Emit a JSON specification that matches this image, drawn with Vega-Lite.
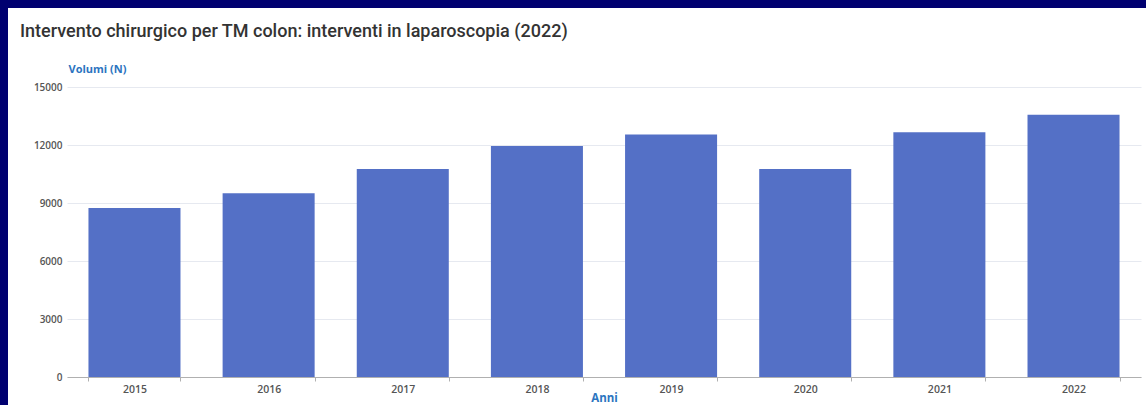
{
  "$schema": "https://vega.github.io/schema/vega-lite/v6.json",
  "width": 1138,
  "height": 397,
  "autosize": {"type": "none"},
  "padding": {"left": 8, "top": 8, "right": 0, "bottom": 0},
  "background": "#000070",
  "config": {"view": {"fill": "white", "stroke": null}},
  "title": {
    "text": "Intervento chirurgico per TM colon: interventi in laparoscopia (2022)",
    "anchor": "start",
    "frame": "group",
    "offset": -33,
    "dx": 12,
    "font": "Roboto",
    "fontSize": 18,
    "fontWeight": 500,
    "color": "#333333"
  },
  "data": {
    "values": [
      {"anno": "2015", "volumi": 8740},
      {"anno": "2016", "volumi": 9500},
      {"anno": "2017", "volumi": 10760},
      {"anno": "2018", "volumi": 11950},
      {"anno": "2019", "volumi": 12540},
      {"anno": "2020", "volumi": 10760},
      {"anno": "2021", "volumi": 12660},
      {"anno": "2022", "volumi": 13570}
    ]
  },
  "mark": {"type": "bar", "color": "#5470c6"},
  "encoding": {
    "x": {
      "field": "anno",
      "type": "ordinal",
      "scale": {"range": [59, 1133], "paddingInner": 0.314, "paddingOuter": 0.16},
      "axis": {
        "title": "Anni",
        "orient": "bottom",
        "offset": -28,
        "labelAngle": 0,
        "tickBand": "extent",
        "domainColor": "#b0b0b0",
        "tickColor": "#b0b0b0",
        "tickSize": 4,
        "labelPadding": 3,
        "labelFont": "Open Sans",
        "labelFontSize": 10.5,
        "labelFontWeight": 600,
        "labelColor": "#555555",
        "titleFont": "Open Sans",
        "titleFontSize": 11.5,
        "titleFontWeight": "bold",
        "titleColor": "#2b74c0",
        "titleBaseline": "middle",
        "titleY": 21
      }
    },
    "y": {
      "field": "volumi",
      "type": "quantitative",
      "scale": {"domain": [0, 15000], "range": [369, 79], "nice": false},
      "axis": {
        "title": "Volumi (N)",
        "offset": -59,
        "values": [0, 3000, 6000, 9000, 12000, 15000],
        "format": "d",
        "domain": false,
        "ticks": false,
        "tickSize": 0,
        "labelPadding": 5,
        "labelFont": "Open Sans",
        "labelFontSize": 10,
        "labelFontWeight": 600,
        "labelColor": "#555555",
        "gridColor": "#e6e9f0",
        "titleAngle": 0,
        "titleAlign": "left",
        "titleBaseline": "middle",
        "titleX": 1,
        "titleY": 61,
        "titleFont": "Open Sans",
        "titleFontSize": 11,
        "titleFontWeight": "bold",
        "titleColor": "#2b74c0"
      }
    }
  }
}
